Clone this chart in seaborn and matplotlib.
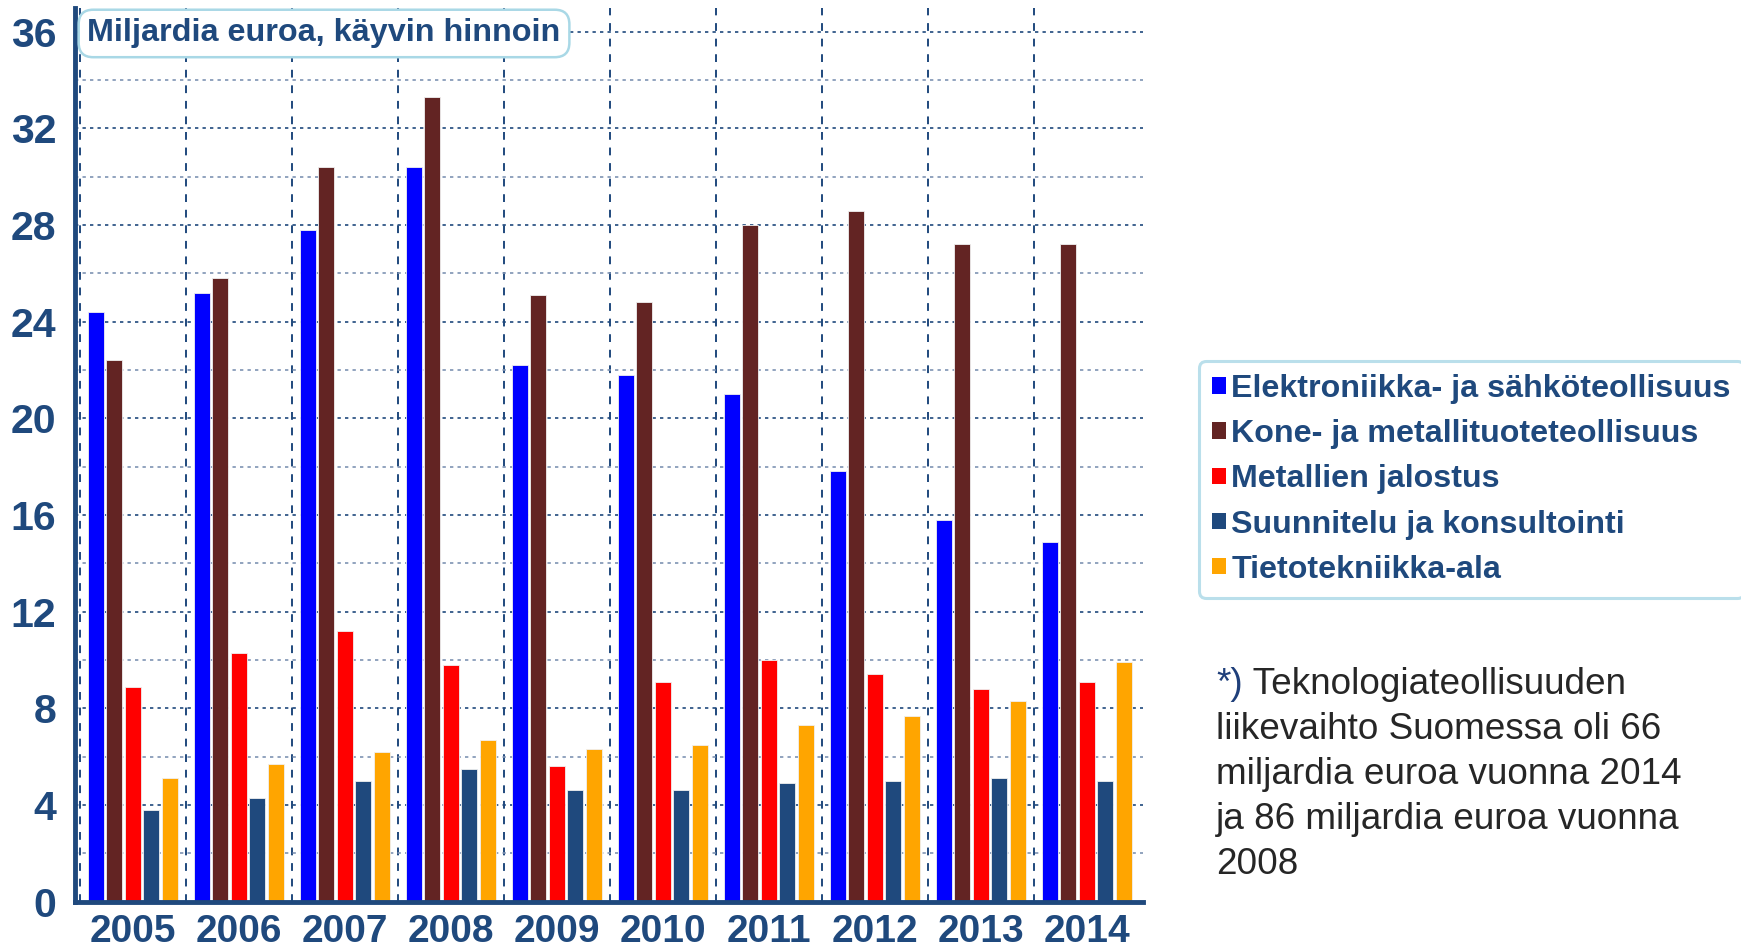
import numpy as np
import pandas as pd
import matplotlib
matplotlib.use("Agg")
import matplotlib.pyplot as plt
from matplotlib.patches import Patch
import seaborn as sns

years = ["2005", "2006", "2007", "2008", "2009", "2010", "2011", "2012", "2013", "2014"]
sectors = [
    "Elektroniikka- ja sähköteollisuus",
    "Kone- ja metallituoteteollisuus",
    "Metallien jalostus",
    "Suunnitelu ja konsultointi",
    "Tietotekniikka-ala",
]
elektroniikka = [24.4, 25.2, 27.8, 30.4, 22.2, 21.8, 21.0, 17.8, 15.8, 14.9]
kone = [22.4, 25.8, 30.4, 33.3, 25.1, 24.8, 28.0, 28.6, 27.2, 27.2]
metallit = [8.9, 10.3, 11.2, 9.8, 5.6, 9.1, 10.0, 9.4, 8.8, 9.1]
suunnittelu = [3.8, 4.3, 5.0, 5.5, 4.6, 4.6, 4.9, 5.0, 5.1, 5.0]
tietotekniikka = [5.1, 5.7, 6.2, 6.7, 6.3, 6.5, 7.3, 7.7, 8.3, 9.9]
colors = ["#0000FF", "#632423", "#FF0000", "#1F497D", "#FFA500"]

title_text = "Miljardia euroa, käyvin hinnoin"
note_star = "*)"
note_lines = [
    " Teknologiateollisuuden",
    "liikevaihto Suomessa oli 66",
    "miljardia euroa vuonna 2014",
    "ja 86 miljardia euroa vuonna",
    "2008",
]

navy = "#1F497D"

series = [elektroniikka, kone, metallit, suunnittelu, tietotekniikka]
df = pd.DataFrame({
    "vuosi": np.tile(years, len(sectors)),
    "ala": np.repeat(sectors, len(years)),
    "arvo": np.concatenate(series),
})

sns.set_style("white")
plt.rcParams["font.family"] = ["Liberation Sans", "DejaVu Sans"]

fig = plt.figure(figsize=(17.41, 9.48), dpi=100)
ax = fig.add_axes([0.0428, 0.049, 0.6137, 0.943])

sns.barplot(data=df, x="vuosi", y="arvo", hue="ala", hue_order=sectors,
            palette=colors, width=0.87, gap=0.12, edgecolor="#f0f0f0",
            linewidth=0.6, saturation=1, ax=ax, legend=False, zorder=3)

ax.set_xlim(-0.55, 9.53)
ax.set_ylim(0, 37)
ax.set_xlabel("")
ax.set_ylabel("")

ax.set_yticks(np.arange(0, 37, 4))
ax.set_yticks(np.arange(2, 37, 4), minor=True)
ax.set_xticks(np.arange(-0.5, 9, 1), minor=True)
ax.tick_params(axis="y", which="both", direction="out", length=7, width=1.2,
               color="#6f86a8", labelsize=29.5, labelcolor=navy, pad=6)
ax.tick_params(axis="x", which="major", length=0, labelsize=28,
               labelcolor=navy, pad=9)
ax.tick_params(axis="x", which="minor", direction="out", length=9, width=1.5,
               color=navy)
for lab in ax.get_yticklabels() + ax.get_xticklabels():
    lab.set_fontweight("bold")

ax.grid(axis="y", which="major", linestyle=(0, (2, 2.5)), color=navy,
        linewidth=1.2, zorder=0)
ax.grid(axis="y", which="minor", linestyle=(0, (2, 2.5)), color="#7e93b3",
        linewidth=1.2, zorder=0)
ax.grid(axis="x", which="minor", linestyle=(0, (4, 4)), color=navy,
        linewidth=1.4, zorder=0)
ax.set_axisbelow(True)

sns.despine(ax=ax, top=True, right=True)
for side in ["left", "bottom"]:
    ax.spines[side].set_color(navy)
    ax.spines[side].set_linewidth(3.5)
    ax.spines[side].set_zorder(5)

fig.text(0.0502, 0.9647, title_text, fontsize=23.3, fontweight="bold",
         color=navy, va="center", ha="left",
         bbox=dict(boxstyle="round,pad=0.27,rounding_size=0.45",
                   facecolor="white", edgecolor="#a9d8e6", linewidth=1.8))

handles = [Patch(facecolor=c, edgecolor="none") for c in colors]
leg = fig.legend(handles, sectors, loc="upper left",
                 bbox_to_anchor=(0.6888, 0.619), borderaxespad=0,
                 frameon=True, fancybox=True,
                 handlelength=0.42, handleheight=0.42, handletextpad=0.18,
                 labelspacing=0.47, borderpad=0.4,
                 prop={"size": 23.2, "weight": "bold"})
for t in leg.get_texts():
    t.set_color(navy)
leg.get_frame().set_edgecolor("#a9d8e6")
leg.get_frame().set_linewidth(2.2)

x0 = 0.6985
y0 = 0.268
dy = 0.0475
star = fig.text(x0, y0, note_star, fontsize=26.6, color="#1F3F7A",
                va="baseline", ha="left")
fig.canvas.draw()
star_w = star.get_window_extent().width / fig.bbox.width
for i, line in enumerate(note_lines):
    fig.text(x0 + (star_w if i == 0 else 0), y0 - i * dy, line,
             fontsize=26.6, color="#262626", va="baseline", ha="left")

fig.savefig("out.png", dpi=100)
